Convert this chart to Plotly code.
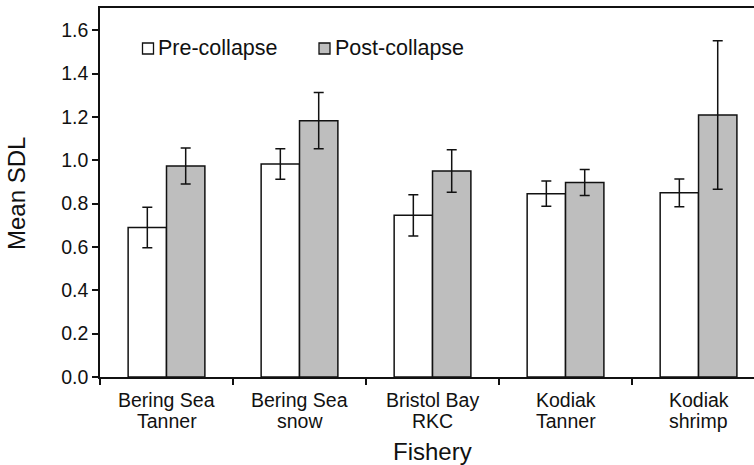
import plotly.graph_objects as go

# Mean SDL by fishery, before and after the stock collapse
fisheries = ["Bering Sea Tanner", "Bering Sea snow", "Bristol Bay RKC",
             "Kodiak Tanner", "Kodiak shrimp"]
label_lines = [("Bering Sea", "Tanner"), ("Bering Sea", "snow"), ("Bristol Bay", "RKC"),
               ("Kodiak", "Tanner"), ("Kodiak", "shrimp")]
pre_collapse = [0.69, 0.983, 0.746, 0.846, 0.85]
pre_collapse_err = [0.093, 0.07, 0.095, 0.058, 0.064]
post_collapse = [0.974, 1.183, 0.951, 0.898, 1.209]
post_collapse_err = [0.083, 0.13, 0.098, 0.06, 0.343]
y_ticks = [0.0, 0.2, 0.4, 0.6, 0.8, 1.0, 1.2, 1.4, 1.6]

FONT = "Liberation Sans, Arial, Helvetica, sans-serif"
INK = "#111111"
GREY = "#bebebe"

W, H = 754, 465
M_L, M_R, M_T, M_B = 100, 0, 8, 88
plot_w = W - M_L - M_R
plot_h = H - M_T - M_B


def px_x(px):
    return (px - M_L) / plot_w


def px_y(py):
    return (H - M_B - py) / plot_h


err_style = dict(type="data", visible=True, color=INK, thickness=1.5, width=5)

fig = go.Figure()
fig.add_trace(go.Bar(
    name="Pre-collapse", x=fisheries, y=pre_collapse,
    marker=dict(color="white", line=dict(color=INK, width=1.5)),
    error_y=dict(array=pre_collapse_err, **err_style),
    showlegend=False,
))
fig.add_trace(go.Bar(
    name="Post-collapse", x=fisheries, y=post_collapse,
    marker=dict(color=GREY, line=dict(color=INK, width=1.5)),
    error_y=dict(array=post_collapse_err, **err_style),
    showlegend=False,
))

# legend: small outlined squares followed by labels
legend_items = [("Pre-collapse", "white", 142.5), ("Post-collapse", GREY, 319)]
shapes = []
annotations = []
for label, fill, x0 in legend_items:
    shapes.append(dict(type="rect", xref="paper", yref="paper",
                       x0=px_x(x0), x1=px_x(x0 + 11), y0=px_y(54), y1=px_y(43),
                       fillcolor=fill, line=dict(color=INK, width=1.3)))
    annotations.append(dict(text=label, xref="paper", yref="paper",
                            x=px_x(x0 + 13.5), y=px_y(48.5), xanchor="left", yanchor="middle",
                            showarrow=False, font=dict(family=FONT, size=21.5, color=INK)))

# two-line category labels under each group
for name, (first, second) in zip(fisheries, label_lines):
    for text, py in ((first, 399.5), (second, 420.5)):
        annotations.append(dict(text=text, xref="x", yref="paper", x=name, y=px_y(py),
                                xanchor="center", yanchor="middle", showarrow=False,
                                font=dict(family=FONT, size=19.5, color=INK)))

# axis titles
annotations.append(dict(text="Fishery", xref="paper", yref="paper",
                        x=px_x(432), y=px_y(452), xanchor="center", yanchor="middle",
                        showarrow=False, font=dict(family=FONT, size=24, color=INK)))
annotations.append(dict(text="Mean SDL", xref="paper", yref="paper",
                        x=px_x(16), y=px_y(194), xanchor="center", yanchor="middle",
                        textangle=-90, showarrow=False,
                        font=dict(family=FONT, size=24, color=INK)))

fig.update_layout(
    width=W, height=H,
    margin=dict(l=M_L, r=M_R, t=M_T, b=M_B, pad=0),
    paper_bgcolor="white", plot_bgcolor="white",
    barmode="group", bargap=0.423, bargroupgap=0,
    font=dict(family=FONT, size=19.5, color=INK),
    shapes=shapes, annotations=annotations,
)
fig.update_xaxes(
    type="category", range=[-0.5, 4.417],
    showline=True, linecolor=INK, linewidth=1.5, mirror=True,
    ticks="outside", tickson="boundaries", ticklen=6, tickwidth=1.5, tickcolor=INK,
    showticklabels=False,
    showgrid=False, zeroline=False,
)
fig.update_yaxes(
    range=[0, 1.703], tickvals=y_ticks, tickformat=".1f",
    showline=True, linecolor=INK, linewidth=1.5,
    ticks="outside", ticklen=6, tickwidth=1.5, tickcolor=INK,
    tickfont=dict(family=FONT, size=19.5, color=INK),
    showgrid=False, zeroline=False,
)

fig.write_html("out.html")
